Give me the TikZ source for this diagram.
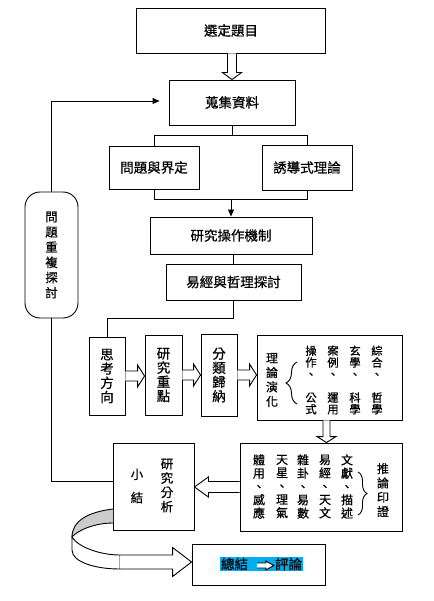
\documentclass[tikz,border=0pt]{standalone}
\usepackage{fontspec}
\setmainfont{Noto Sans CJK TC}[FakeBold=0.6]
\usetikzlibrary{calc}
\usetikzlibrary{arrows.meta}
\usetikzlibrary{decorations.pathreplacing}
\lineskiplimit=-10pt
\def\thickness{0.9pt}
\tikzstyle{box}=[draw=black, line width=\thickness, inner sep=0pt, font=\fontsize{13.5}{16}\selectfont]
\tikzstyle{vbox}=[box, align=center, font=\fontsize{13.5}{14.2}\selectfont]
\tikzstyle{col}=[inner sep=0pt, align=center, font=\fontsize{11.3}{11.7}\selectfont]
\tikzstyle{wire}=[line width=\thickness]
\tikzstyle{hollow}=[draw=black, fill=white, line width=\thickness]
\tikzset{tip/.style={-{Triangle[length=7pt, width=6pt]}}}
\newcommand\fatarrow[5]{%
  \coordinate (fa) at ($(#2)!#5!(#1)$);
  \draw [hollow] ($(#1)!#3!90:(#2)$) -- ($(fa)!#3!90:(#2)$) -- ($(fa)!#4!90:(#2)$) -- (#2)
    -- ($(fa)!#4!-90:(#2)$) -- ($(fa)!#3!-90:(#2)$) -- ($(#1)!#3!-90:(#2)$);
}

\begin{document}
\begin{tikzpicture}[x=1pt, y=-1pt]
\useasboundingbox (0,0) rectangle (433,601);
\node [box, minimum width=189pt, minimum height=45pt] (title) at (231,30.5) {選定題目};
\node [box, minimum width=126pt, minimum height=45pt] (collect) at (232,102.5) {蒐集資料};
\node [box, minimum width=90pt, minimum height=43pt] (defn) at (154,167.5) {問題與界定};
\node [box, minimum width=90pt, minimum height=45pt] (induc) at (307,167.5) {誘導式理論};
\node [box, minimum width=162pt, minimum height=37pt] (mech) at (231,235.5) {研究操作機制};
\node [box, minimum width=135pt, minimum height=36pt] (yijing) at (233.5,282) {易經與哲理探討};
\node [vbox, rounded corners=15pt, minimum width=53pt, minimum height=126pt, font=\fontsize{12.5}{15.2}\selectfont] (again) at (51.5,255) {問\\題\\重\\複\\探\\討};

\node [vbox, minimum width=36pt, minimum height=78pt] (think) at (107,376) {思\\考\\方\\向};
\node [vbox, minimum width=37pt, minimum height=80pt] (focus) at (163.5,375) {研\\究\\重\\點};
\node [vbox, minimum width=36pt, minimum height=82pt] (sort) at (219,375) {分\\類\\歸\\納};
\node [box, minimum width=145pt, minimum height=85pt] (evolve) at (329.5,377.5) {};
\node [col, font=\fontsize{12}{14.5}\selectfont] (evolve-t) at (272,380) {理\\論\\演\\化};
\node [col] (evolve-1) at (377,380) {綜\\合\\、\\[11.7pt]哲\\學};
\node [col] (evolve-2) at (355,380) {玄\\學\\、\\[11.7pt]科\\學};
\node [col] (evolve-3) at (333,380) {案\\例\\、\\[11.7pt]運\\用};
\node [col] (evolve-4) at (311,380) {操\\作\\、\\[11.7pt]公\\式};
\draw [wire, decorate, decoration={brace, amplitude=11pt}] (297,404) -- (297,362);

\node [box, minimum width=162pt, minimum height=88pt] (verify) at (321,487) {};
\node [col, font=\fontsize{12}{14.3}\selectfont] (verify-t) at (383,490) {推\\論\\印\\證};
\node [col, font=\fontsize{12}{13.3}\selectfont] (verify-1) at (347,486.5) {文\\獻\\、\\描\\述};
\node [col, font=\fontsize{12}{13.3}\selectfont] (verify-2) at (325,486.5) {易\\經\\、\\天\\文};
\node [col, font=\fontsize{12}{13.3}\selectfont] (verify-3) at (303,486.5) {雜\\卦\\、\\易\\數};
\node [col, font=\fontsize{12}{13.3}\selectfont] (verify-4) at (282,486.5) {天\\星\\、\\理\\氣};
\node [col, font=\fontsize{12}{13.3}\selectfont] (verify-5) at (259,486.5) {體\\用\\、\\感\\應};
\draw [wire, decorate, decoration={brace, amplitude=9pt}] (358,472) -- (358,515);

\node [box, minimum width=81pt, minimum height=87pt] (summary) at (153.5,486.5) {};
\node [col, font=\fontsize{12.5}{14.3}\selectfont] (summary-1) at (167,485.5) {研\\究\\分\\析};
\node [col, font=\fontsize{12.5}{14.3}\selectfont] (summary-2) at (137,486) {小\\[9pt]結};

\node [box, minimum width=133pt, minimum height=41pt] (conclude) at (258.5,564.5) {};
\node [fill=cyan, inner sep=1pt, font=\fontsize{13.5}{16}\selectfont] (conclude-t) at (261.5,564) {總結\hspace{27pt}評論};
\coordinate (t1) at ($(conclude-t.west)+(37,1.5)$);
\coordinate (t2) at ($(conclude-t.west)+(54,1.5)$);
\fatarrow{t1}{t2}{2.5pt}{4.5pt}{8pt}

\coordinate (a1) at (title.south -| collect.north);
\fatarrow{a1}{collect.north}{4.5pt}{9.5pt}{7pt}
\coordinate (s1) at ($(collect.south)+(0,10)$);
\draw [wire] (collect.south) -- (s1) -| (defn.north);
\draw [wire] (s1) -| (induc.north);
\coordinate (s2) at ($(defn.south)+(77,10)$);
\draw [wire] (defn.south) |- (s2) -| (induc.south);
\draw [wire, tip] (s2) -- (s2 |- mech.north);
\draw [wire] (yijing.north |- mech.south) -- (yijing.north);
\draw [wire] (yijing.south) -- ++(0,18) -| (think.north);
\draw [wire, tip] (again.north) |- ($(collect.west)+(-9,-1.5)$);
\draw [wire] (again.south) |- ($(summary.west)+(0,-5)$);

\coordinate (r1) at (think.east -| focus.west);
\fatarrow{think.east}{r1}{5pt}{11pt}{7pt}
\coordinate (r2) at (focus.east -| sort.west);
\fatarrow{focus.east}{r2}{5pt}{11pt}{7pt}
\coordinate (r3) at (sort.east -| evolve.west);
\fatarrow{sort.east}{r3}{5pt}{11pt}{7pt}
\coordinate (d1) at ($(evolve.south)+(-3,0)$);
\coordinate (d2) at (d1 |- verify.north);
\fatarrow{d1}{d2}{3.5pt}{9.5pt}{6pt}
\coordinate (l1) at (verify.west -| summary.east);
\fatarrow{verify.west}{l1}{5.5pt}{10pt}{14pt}

\draw [wire, fill=black!20] (113,509) .. controls (88,512) and (72,521) .. (72,537) .. controls (78,530) and (95,523) .. (113,523);
\draw [wire, fill=white] (72,537) .. controls (78,547) and (100,555) .. (120,555) -- (120,569) .. controls (95,569) and (72,562) .. (72,550) -- cycle;
\coordinate (c1) at (120,562);
\coordinate (c2) at (c1 -| conclude.west);
\fatarrow{c1}{c2}{7pt}{14.5pt}{19pt}
\end{tikzpicture}
\end{document}
